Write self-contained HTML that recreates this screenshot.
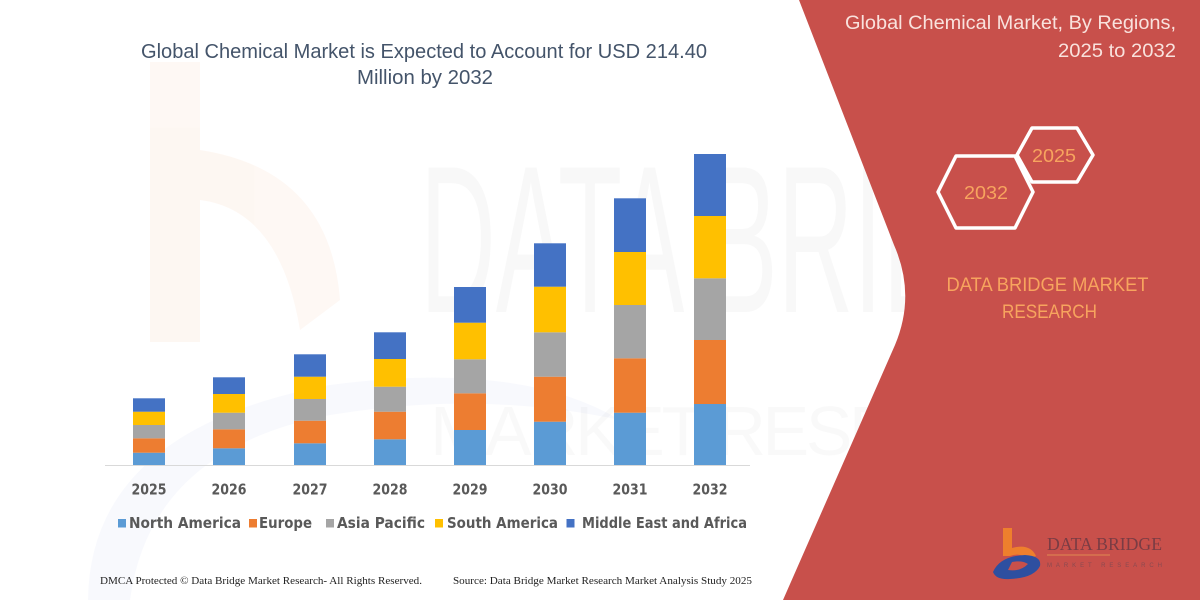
<!DOCTYPE html>
<html>
<head>
<meta charset="utf-8">
<style>
html,body{margin:0;padding:0;background:#fff;}
svg{display:block;}
</style>
</head>
<body>
<svg width="1200" height="600" viewBox="0 0 1200 600" xmlns="http://www.w3.org/2000/svg">
  <rect x="0" y="0" width="1200" height="600" fill="#ffffff"/>

  <!-- faint watermark: orange b -->
  <g opacity="0.055">
    <rect x="150" y="62" width="50" height="280" fill="#ED7D31"/>
    <path d="M200,150 Q330,170 340,300 L300,330 Q280,210 200,200 Z" fill="#ED7D31"/>
  </g>
  <!-- faint blue arc -->
  <path d="M88,600 Q90,430 330,385 Q520,360 620,420 Q480,390 330,415 Q150,450 130,600 Z" fill="#4472C4" opacity="0.04"/>
  <!-- faint DATA BRIDGE watermark -->
  <text x="420" y="312" font-family="'Liberation Sans', sans-serif" font-size="210" fill="#000" opacity="0.025" textLength="690" lengthAdjust="spacingAndGlyphs">DATA BRIDGE</text>
  <text x="430" y="455" font-family="'Liberation Sans', sans-serif" font-size="70" fill="#000" opacity="0.02" textLength="680" lengthAdjust="spacing" letter-spacing="30">MARKET RESEARCH</text>

  <!-- Red panel -->
  <path d="M799,0 L1200,0 L1200,600 L783,600 L895,345 Q916,295 894,245 Z" fill="#C8504B"/>

  <!-- Left title -->
  <g font-family="'Liberation Sans', sans-serif" fill="#44546A" font-size="20.5">
    <text x="141" y="58" textLength="566" lengthAdjust="spacingAndGlyphs">Global Chemical Market is Expected to Account for USD 214.40</text>
    <text x="357" y="84" textLength="136" lengthAdjust="spacingAndGlyphs">Million by 2032</text>
  </g>

  <!-- Bars -->
  <g>
    <rect x="133" y="452.7" width="32" height="12.3" fill="#5B9BD5"/>
    <rect x="133" y="438.3" width="32" height="14.4" fill="#ED7D31"/>
    <rect x="133" y="425" width="32" height="13.3" fill="#A5A5A5"/>
    <rect x="133" y="411.7" width="32" height="13.3" fill="#FFC000"/>
    <rect x="133" y="398.3" width="32" height="13.4" fill="#4472C4"/>
    <rect x="213" y="448.3" width="32" height="16.7" fill="#5B9BD5"/>
    <rect x="213" y="429.3" width="32" height="19" fill="#ED7D31"/>
    <rect x="213" y="412.7" width="32" height="16.6" fill="#A5A5A5"/>
    <rect x="213" y="394" width="32" height="18.7" fill="#FFC000"/>
    <rect x="213" y="377.3" width="32" height="16.7" fill="#4472C4"/>
    <rect x="294" y="443.3" width="32" height="21.7" fill="#5B9BD5"/>
    <rect x="294" y="420.7" width="32" height="22.6" fill="#ED7D31"/>
    <rect x="294" y="399" width="32" height="21.7" fill="#A5A5A5"/>
    <rect x="294" y="376.7" width="32" height="22.3" fill="#FFC000"/>
    <rect x="294" y="354.3" width="32" height="22.4" fill="#4472C4"/>
    <rect x="374" y="439.3" width="32" height="25.7" fill="#5B9BD5"/>
    <rect x="374" y="411.7" width="32" height="27.6" fill="#ED7D31"/>
    <rect x="374" y="386.7" width="32" height="25" fill="#A5A5A5"/>
    <rect x="374" y="359" width="32" height="27.7" fill="#FFC000"/>
    <rect x="374" y="332.3" width="32" height="26.7" fill="#4472C4"/>
    <rect x="454" y="430" width="32" height="35" fill="#5B9BD5"/>
    <rect x="454" y="393.3" width="32" height="36.7" fill="#ED7D31"/>
    <rect x="454" y="359.3" width="32" height="34" fill="#A5A5A5"/>
    <rect x="454" y="322.7" width="32" height="36.6" fill="#FFC000"/>
    <rect x="454" y="287" width="32" height="35.7" fill="#4472C4"/>
    <rect x="534" y="421.7" width="32" height="43.3" fill="#5B9BD5"/>
    <rect x="534" y="376.7" width="32" height="45" fill="#ED7D31"/>
    <rect x="534" y="332.3" width="32" height="44.4" fill="#A5A5A5"/>
    <rect x="534" y="286.7" width="32" height="45.6" fill="#FFC000"/>
    <rect x="534" y="243.3" width="32" height="43.4" fill="#4472C4"/>
    <rect x="614" y="412.7" width="32" height="52.3" fill="#5B9BD5"/>
    <rect x="614" y="358.3" width="32" height="54.4" fill="#ED7D31"/>
    <rect x="614" y="305" width="32" height="53.3" fill="#A5A5A5"/>
    <rect x="614" y="252" width="32" height="53" fill="#FFC000"/>
    <rect x="614" y="198.3" width="32" height="53.7" fill="#4472C4"/>
    <rect x="694" y="404" width="32" height="61" fill="#5B9BD5"/>
    <rect x="694" y="340" width="32" height="64" fill="#ED7D31"/>
    <rect x="694" y="278.3" width="32" height="61.7" fill="#A5A5A5"/>
    <rect x="694" y="216" width="32" height="62.3" fill="#FFC000"/>
    <rect x="694" y="154" width="32" height="62" fill="#4472C4"/>
  </g>

  <line x1="105" y1="465.5" x2="750" y2="465.5" stroke="#D9D9D9" stroke-width="1"/>

  <g font-family="'DejaVu Sans', sans-serif" font-weight="bold" font-size="15" fill="#595959" text-anchor="middle">
    <text x="149" y="494.5" textLength="35" lengthAdjust="spacingAndGlyphs">2025</text>
    <text x="229" y="494.5" textLength="35" lengthAdjust="spacingAndGlyphs">2026</text>
    <text x="310" y="494.5" textLength="35" lengthAdjust="spacingAndGlyphs">2027</text>
    <text x="390" y="494.5" textLength="35" lengthAdjust="spacingAndGlyphs">2028</text>
    <text x="470" y="494.5" textLength="35" lengthAdjust="spacingAndGlyphs">2029</text>
    <text x="550" y="494.5" textLength="35" lengthAdjust="spacingAndGlyphs">2030</text>
    <text x="630" y="494.5" textLength="35" lengthAdjust="spacingAndGlyphs">2031</text>
    <text x="710" y="494.5" textLength="35" lengthAdjust="spacingAndGlyphs">2032</text>
  </g>

  <g font-family="'DejaVu Sans', sans-serif" font-weight="bold" font-size="15" fill="#595959">
    <rect x="118" y="519" width="8" height="8.5" fill="#5B9BD5"/>
    <text x="129" y="528" textLength="112" lengthAdjust="spacingAndGlyphs">North America</text>
    <rect x="249" y="519" width="8" height="8.5" fill="#ED7D31"/>
    <text x="259" y="528" textLength="53" lengthAdjust="spacingAndGlyphs">Europe</text>
    <rect x="326" y="519" width="8" height="8.5" fill="#A5A5A5"/>
    <text x="337" y="528" textLength="88" lengthAdjust="spacingAndGlyphs">Asia Pacific</text>
    <rect x="435" y="519" width="8" height="8.5" fill="#FFC000"/>
    <text x="447" y="528" textLength="111" lengthAdjust="spacingAndGlyphs">South America</text>
    <rect x="566.5" y="519" width="8" height="8.5" fill="#4472C4"/>
    <text x="582" y="528" textLength="165" lengthAdjust="spacingAndGlyphs">Middle East and Africa</text>
  </g>

  <g font-family="'Liberation Serif', serif" font-size="11" fill="#222">
    <text x="100" y="584" textLength="322" lengthAdjust="spacingAndGlyphs">DMCA Protected © Data Bridge Market Research-  All Rights Reserved.</text>
    <text x="453" y="584" textLength="299" lengthAdjust="spacingAndGlyphs">Source: Data Bridge Market Research  Market Analysis Study 2025</text>
  </g>

  <g font-family="'Liberation Sans', sans-serif" font-size="19" fill="#F9E2DD" text-anchor="end">
    <text x="1176" y="29" textLength="331" lengthAdjust="spacingAndGlyphs">Global Chemical Market, By Regions,</text>
    <text x="1176" y="57" textLength="118" lengthAdjust="spacingAndGlyphs">2025 to 2032</text>
  </g>

  <g fill="none" stroke="#ffffff" stroke-width="3.5" stroke-linejoin="round">
    <polygon points="1017,155 1032,128 1077,128 1093,155 1077,182 1032,182"/>
    <polygon points="938,192 956,156 1015,156 1033,192 1015,228 956,228"/>
  </g>
  <g font-family="'Liberation Sans', sans-serif" font-size="18" fill="#F7A45E" text-anchor="middle">
    <text x="1054" y="162" textLength="44" lengthAdjust="spacingAndGlyphs">2025</text>
    <text x="986" y="199" textLength="44" lengthAdjust="spacingAndGlyphs">2032</text>
  </g>

  <g font-family="'Liberation Sans', sans-serif" font-size="19" fill="#F7A45E" text-anchor="middle">
    <text x="1047.5" y="291" textLength="202" lengthAdjust="spacingAndGlyphs">DATA BRIDGE MARKET</text>
    <text x="1049.5" y="318" textLength="95" lengthAdjust="spacingAndGlyphs">RESEARCH</text>
  </g>

  <g>
    <path d="M1003,528 L1012,528 L1012,548 Q1030,543 1036,556 L1028,560 Q1022,552 1010,556 L1003,556 Z" fill="#EE7F2D"/>
    <path d="M993,572 Q1000,556 1025,555 Q1042,556 1040,566 Q1034,578 1010,579 Q996,580 993,572 Z M1008,570 Q1020,572 1028,564 Q1022,560 1012,562 Z" fill="#2E4FA0" fill-rule="evenodd"/>
    <text x="1047" y="550" font-family="'Liberation Serif', serif" font-size="18" fill="#7A3C44" textLength="115" lengthAdjust="spacingAndGlyphs">DATA BRIDGE</text>
    <line x1="1047" y1="555" x2="1110" y2="555" stroke="#E08A50" stroke-width="1"/>
    <text x="1047" y="567" font-family="'Liberation Sans', sans-serif" font-size="6" fill="#8A4A50" textLength="115" lengthAdjust="spacing">MARKET RESEARCH</text>
  </g>
</svg>
</body>
</html>
